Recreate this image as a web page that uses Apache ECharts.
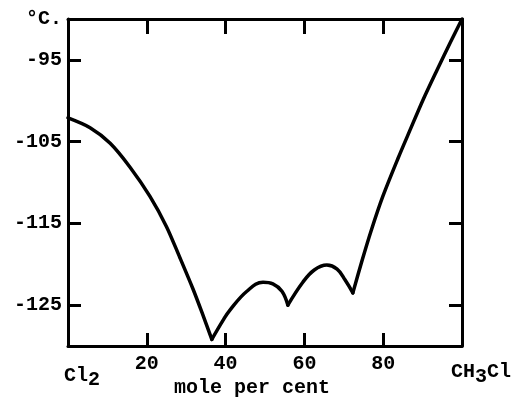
<!DOCTYPE html>
<html>
<head>
<meta charset="utf-8">
<script src="https://cdn.jsdelivr.net/npm/echarts@6/dist/echarts.min.js"></script>
<style>html,body{margin:0;padding:0;background:#fff;}#c{width:516px;height:401px;}</style>
</head>
<body>
<div id="c"></div>
<script>
// Freezing-point diagram Cl2 – CH3Cl (mole per cent CH3Cl vs °C)
var xTicks = [0, 20, 40, 60, 80, 100];
var xInnerTicks = [20, 40, 60, 80];
var yTicks = [-95, -105, -115, -125];
var yLabels = [-90, -95, -105, -115, -125];
var xAxisTitle = 'mole per cent';

var branch1 = [[0, -102.1], [5.6, -103.3], [10.7, -105.2], [15.7, -108.1], [20.8, -111.7], [25.0, -115.4], [28.4, -119.2], [31.7, -123.0], [34.0, -125.9], [36.5, -129.2]];
var branch2 = [[36.5, -129.2], [39.3, -126.9], [41.1, -125.6], [45.4, -123.3], [49.5, -122.2], [52.0, -122.4], [54.3, -123.3], [55.8, -125.0]];
var branch3 = [[55.8, -125.0], [59.6, -122.2], [62.5, -120.7], [65.7, -120.1], [68.3, -120.6], [70.3, -121.9], [72.3, -123.5]];
var branch4 = [[72.3, -123.5], [74.6, -119.6], [77.0, -115.8], [79.9, -111.7], [83.8, -107.0], [86.8, -103.6], [90.1, -99.9], [93.7, -96.2], [97.0, -92.9], [100, -90]];

var font = 'Liberation Mono';
var chart = echarts.init(document.getElementById('c'));
function lineSeries(d, sm) {
  return { type: 'line', data: d, smooth: sm, showSymbol: false, symbol: 'none',
    lineStyle: { color: '#000', width: 3.5, cap: 'round', join: 'round' }, z: 5, animation: false };
}
var axisLine = { onZero: false, lineStyle: { color: '#000', width: 3 } };
var txt = { fontFamily: font, fontSize: 20, color: '#000', fontWeight: 'bold' };
function rs(pad) { return Object.assign({ verticalAlign: 'top', padding: pad }, txt); }
chart.setOption({
  animation: false,
  backgroundColor: '#fff',
  grid: { left: 68, right: 54, top: 19, bottom: 55, containLabel: false, outerBoundsMode: 'none' },
  xAxis: [{
    type: 'value', min: 0, max: 100, position: 'bottom',
    axisLine: axisLine,
    axisTick: { inside: true, length: 13, lineStyle: { color: '#000', width: 3 }, customValues: xInnerTicks },
    splitLine: { show: false },
    axisLabel: Object.assign({
      customValues: xTicks, margin: 8,
      formatter: function (v) {
        if (v === 0) return '{c0|Cl}{s0|2}';
        if (v === 100) return '{c1|CH}{s1|3}{c2|Cl}';
        return String(v);
      },
      rich: {
        c0: rs([12, 0, 0, 28]),
        s0: rs([16, 0, 0, 0]),
        c1: rs([8, 0, 0, 38]),
        s1: rs([13, 0, 0, 0]),
        c2: rs([8, 0, 0, 0])
      }
    }, txt),
    name: xAxisTitle, nameLocation: 'middle', nameGap: 32, nameMoveOverlap: false,
    nameTextStyle: Object.assign({ padding: [0, 26, 0, 0] }, txt)
  }, {
    type: 'value', min: 0, max: 100, position: 'top',
    axisLine: axisLine,
    axisTick: { inside: true, length: 15, lineStyle: { color: '#000', width: 3 }, customValues: xInnerTicks },
    axisLabel: { show: false }, splitLine: { show: false }
  }],
  yAxis: [{
    type: 'value', min: -130, max: -90, position: 'left',
    axisLine: axisLine,
    axisTick: { inside: true, length: 13, lineStyle: { color: '#000', width: 3 }, customValues: yTicks },
    splitLine: { show: false },
    axisLabel: Object.assign({
      customValues: yLabels, margin: 6,
      formatter: function (v) { return v === -90 ? '°C.' : String(v); }
    }, txt)
  }, {
    type: 'value', min: -130, max: -90, position: 'right',
    axisLine: axisLine,
    axisTick: { inside: true, length: 13, lineStyle: { color: '#000', width: 3 }, customValues: yTicks },
    axisLabel: { show: false }, splitLine: { show: false }
  }],
  series: [lineSeries(branch1, 0.3), lineSeries(branch2, 0.4), lineSeries(branch3, 0.4), lineSeries(branch4, 0.3)]
});
</script>
</body>
</html>
